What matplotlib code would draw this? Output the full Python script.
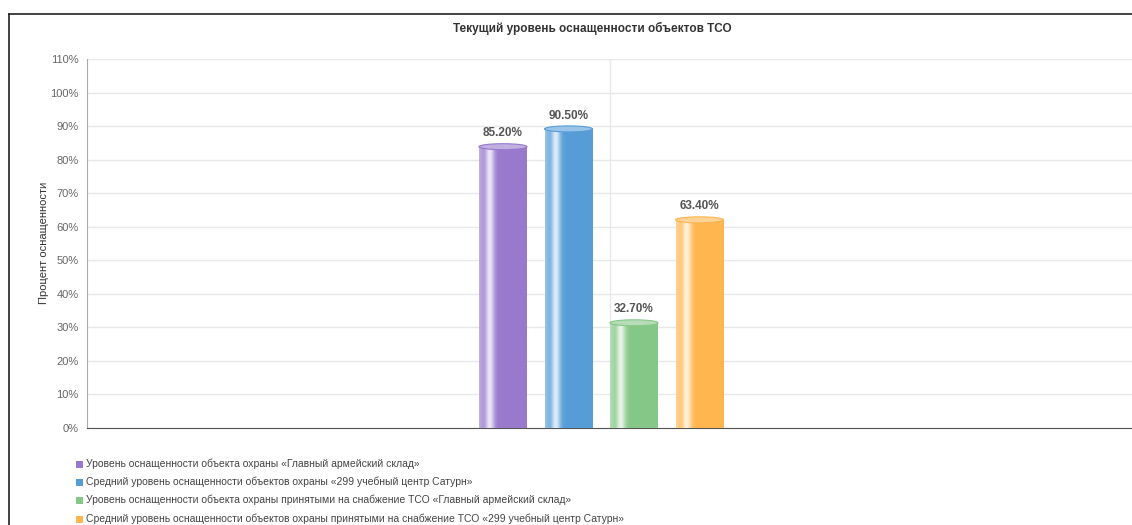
import matplotlib
matplotlib.use("Agg")
import matplotlib.pyplot as plt
import numpy as np
from matplotlib.patches import Rectangle, Ellipse
from matplotlib.colors import to_rgb

title = "Текущий уровень оснащенности объектов ТСО"
ylabel = "Процент оснащенности"
series_names = [
    "Уровень оснащенности объекта охраны «Главный армейский склад»",
    "Средний уровень оснащенности объектов охраны «299 учебный центр Сатурн»",
    "Уровень оснащенности объекта охраны принятыми на снабжение ТСО «Главный армейский склад»",
    "Средний уровень оснащенности объектов охраны принятыми на снабжение ТСО «299 учебный центр Сатурн»",
]
values = [85.2, 90.5, 32.7, 63.4]
colors = ["#9879cc", "#569dd8", "#85c787", "#ffb64f"]
yticks = list(range(0, 111, 10))

W, H = 1132, 525
fig = plt.figure(figsize=(W / 100, H / 100), dpi=100)
plt.rcParams['font.family'] = ['Liberation Sans', 'DejaVu Sans']

left, right, bottom, top = 87, 1133, 428, 59
ax = fig.add_axes([left / W, 1 - bottom / H, (right - left) / W, (bottom - top) / H])
ax.set_xlim(-0.5, 0.5)
ax.set_ylim(0, 110)
ax.set_yticks(yticks)
ax.set_yticklabels([f"{t}%" for t in yticks], fontsize=8, color="#666666")
ax.set_xticks([])
ax.grid(axis="y", color="#e8e8e8", linewidth=1)
ax.axvline(0, color="#e8e8e8", linewidth=1, zorder=0)
ax.set_axisbelow(True)
for s in ["top", "right"]:
    ax.spines[s].set_visible(False)
ax.spines["left"].set_color("#aaaaaa")
ax.spines["bottom"].set_color("#555555")
ax.tick_params(axis="y", length=0, pad=6)
fig.text(44 / W, 1 - 243 / H, ylabel, rotation=90, ha="center", va="center", fontsize=8, color="#333333")

step = 65.5 / 1046
shift = -8.75 / 1046
bw = 48 / 1046
px_per_y = (bottom - top) / 110.0
ell_h = 6 / px_per_y
depth = 4.5 / px_per_y  # 3D perspective offset of the cylinder top

for i, (v, c) in enumerate(zip(values, colors)):
    xc = (i - 1.5) * step + shift
    x0 = xc - bw / 2
    vt = v - depth
    base = np.array(to_rgb(c))
    t = np.linspace(0, 1, 64)
    hl = np.exp(-((t - 0.22) / 0.1) ** 2)
    edge = np.clip(1 - t / 0.12, 0, 1) * 0.4
    mix = np.clip(hl * 0.8 + edge, 0, 1)
    img = base[None, :] * (1 - mix[:, None]) + np.ones(3)[None, :] * mix[:, None]
    img = img[None, :, :]
    rect = Rectangle((x0, 0), bw, vt, facecolor=c, edgecolor="none", zorder=2)
    ax.add_patch(rect)
    im = ax.imshow(img, extent=(x0, x0 + bw, 0, vt), aspect="auto", zorder=3, interpolation="bilinear")
    im.set_clip_path(rect)
    lighter = base * 0.6 + 0.4
    ax.add_patch(Ellipse((xc, vt), bw, ell_h, facecolor=lighter, edgecolor=c, linewidth=0.8, zorder=4))
    ax.text(xc, vt + ell_h / 2 + 1.3, f"{v:.2f}%", ha="center", va="bottom", fontsize=8.5,
            fontweight="bold", color="#555555", zorder=5)

fig.text(592 / W, 1 - 28 / H, title, ha="center", va="center", fontsize=8.5, fontweight="bold", color="#333333")

# frame border
fig.add_artist(plt.Line2D([9 / W, 1], [1 - 14 / H, 1 - 14 / H], color="#222222", linewidth=1.2))
fig.add_artist(plt.Line2D([9 / W, 9 / W], [0, 1 - 14 / H], color="#222222", linewidth=1.2))

# legend
leg_y = [464, 482, 500, 519]
for name, c, y in zip(series_names, colors, leg_y):
    fig.add_artist(Rectangle((76 / W, 1 - (y + 3.5) / H), 7 / W, 7 / H, facecolor=c, edgecolor="none"))
    fig.text(86 / W, 1 - y / H, name, ha="left", va="center", fontsize=7.5, color="#444444")

fig.savefig("out.png", dpi=100)
